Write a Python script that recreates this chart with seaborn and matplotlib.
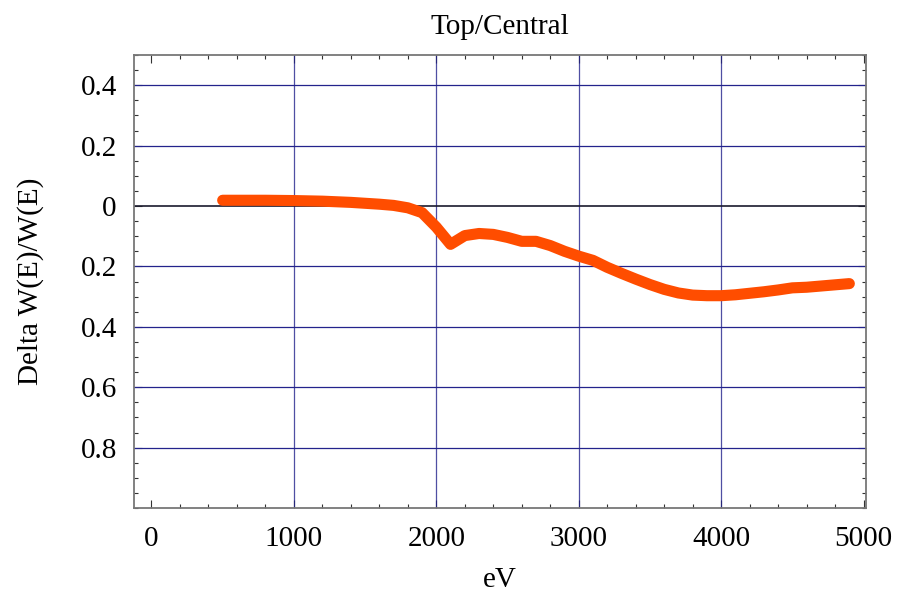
import matplotlib
matplotlib.use("Agg")
import matplotlib.pyplot as plt
import seaborn as sns
import numpy as np
import pandas as pd
from matplotlib.ticker import FixedLocator, FixedFormatter, MultipleLocator

# Data
energy_ev = [500, 600, 800, 1000, 1200, 1400, 1600, 1700, 1800, 1900,
             2000, 2100, 2200, 2300, 2400, 2500, 2600, 2700, 2800, 2900,
             3000, 3100, 3200, 3300, 3400, 3500, 3600, 3700, 3800, 3900,
             4000, 4100, 4200, 4300, 4400, 4500, 4600, 4700, 4800, 4900]
delta_w = [0.019, 0.019, 0.019, 0.018, 0.016, 0.012, 0.006, 0.002, -0.006, -0.022,
           -0.070, -0.127, -0.098, -0.091, -0.094, -0.104, -0.117, -0.117, -0.131, -0.150,
           -0.166, -0.180, -0.203, -0.223, -0.242, -0.260, -0.276, -0.288, -0.295, -0.297,
           -0.297, -0.294, -0.289, -0.284, -0.278, -0.271, -0.269, -0.265, -0.261, -0.257]

x_ticks = [0, 1000, 2000, 3000, 4000, 5000]
x_tick_labels = ["0", "1000", "2000", "3000", "4000", "5000"]
y_ticks = [0.4, 0.2, 0.0, -0.2, -0.4, -0.6, -0.8]
y_tick_labels = ["0.4", "0.2", "0", "0.2", "0.4", "0.6", "0.8"]

title = "Top/Central"
x_label = "eV"
y_label = "Delta W(E)/W(E)"

df = pd.DataFrame({"eV": energy_ev, "delta": delta_w})

sns.set_style("white")
plt.rcParams["font.family"] = ["Liberation Serif", "DejaVu Serif"]
plt.rcParams["text.color"] = "black"
plt.rcParams["axes.labelcolor"] = "black"
plt.rcParams["xtick.labelcolor"] = "black"
plt.rcParams["ytick.labelcolor"] = "black"
fs = 21

W, H = 899, 594
fig = plt.figure(figsize=(W / 100, H / 100), dpi=100)
left, right, top, bottom = 133.5, 866, 55, 508
ax = fig.add_axes([left / W, 1 - bottom / H, (right - left) / W, (bottom - top) / H])

ax.set_xlim(-126, 5017)
ax.set_ylim(-1.0, 0.5)

grid_color = "#23238c"
for xv in x_ticks[1:-1]:
    ax.axvline(xv, color=grid_color, lw=0.9, alpha=0.8, zorder=1)
for yv in y_ticks:
    if yv == 0:
        ax.axhline(yv, color="#1a1a2e", lw=1.2, zorder=1)
    else:
        ax.axhline(yv, color=grid_color, lw=0.9, zorder=1)

sns.lineplot(data=df, x="eV", y="delta", ax=ax, color="#ff4d00", lw=8,
             solid_capstyle="round", solid_joinstyle="round", zorder=3)

ax.xaxis.set_major_locator(FixedLocator(x_ticks))
ax.xaxis.set_major_formatter(FixedFormatter(x_tick_labels))
ax.xaxis.set_minor_locator(MultipleLocator(200))
ax.yaxis.set_major_locator(FixedLocator(y_ticks))
ax.yaxis.set_major_formatter(FixedFormatter(y_tick_labels))
ax.yaxis.set_minor_locator(MultipleLocator(0.05))

ax.tick_params(which="both", direction="in", top=True, right=True,
               bottom=True, left=True, color="#333333", width=0.8,
               labelcolor="black")
ax.tick_params(which="major", length=5.5, labelsize=fs)
ax.tick_params(which="minor", length=3)
ax.tick_params(axis="x", which="major", pad=13)
ax.tick_params(axis="y", which="major", pad=12)

for s in ax.spines.values():
    s.set_color("#777777")
    s.set_linewidth(1.3)

ax.set_title(title, fontsize=fs, pad=15, color="black")
ax.set_xlabel(x_label, fontsize=fs, labelpad=11, color="black")
ax.set_ylabel(y_label, fontsize=fs, labelpad=26, color="black")

fig.savefig("out.png", dpi=100)
